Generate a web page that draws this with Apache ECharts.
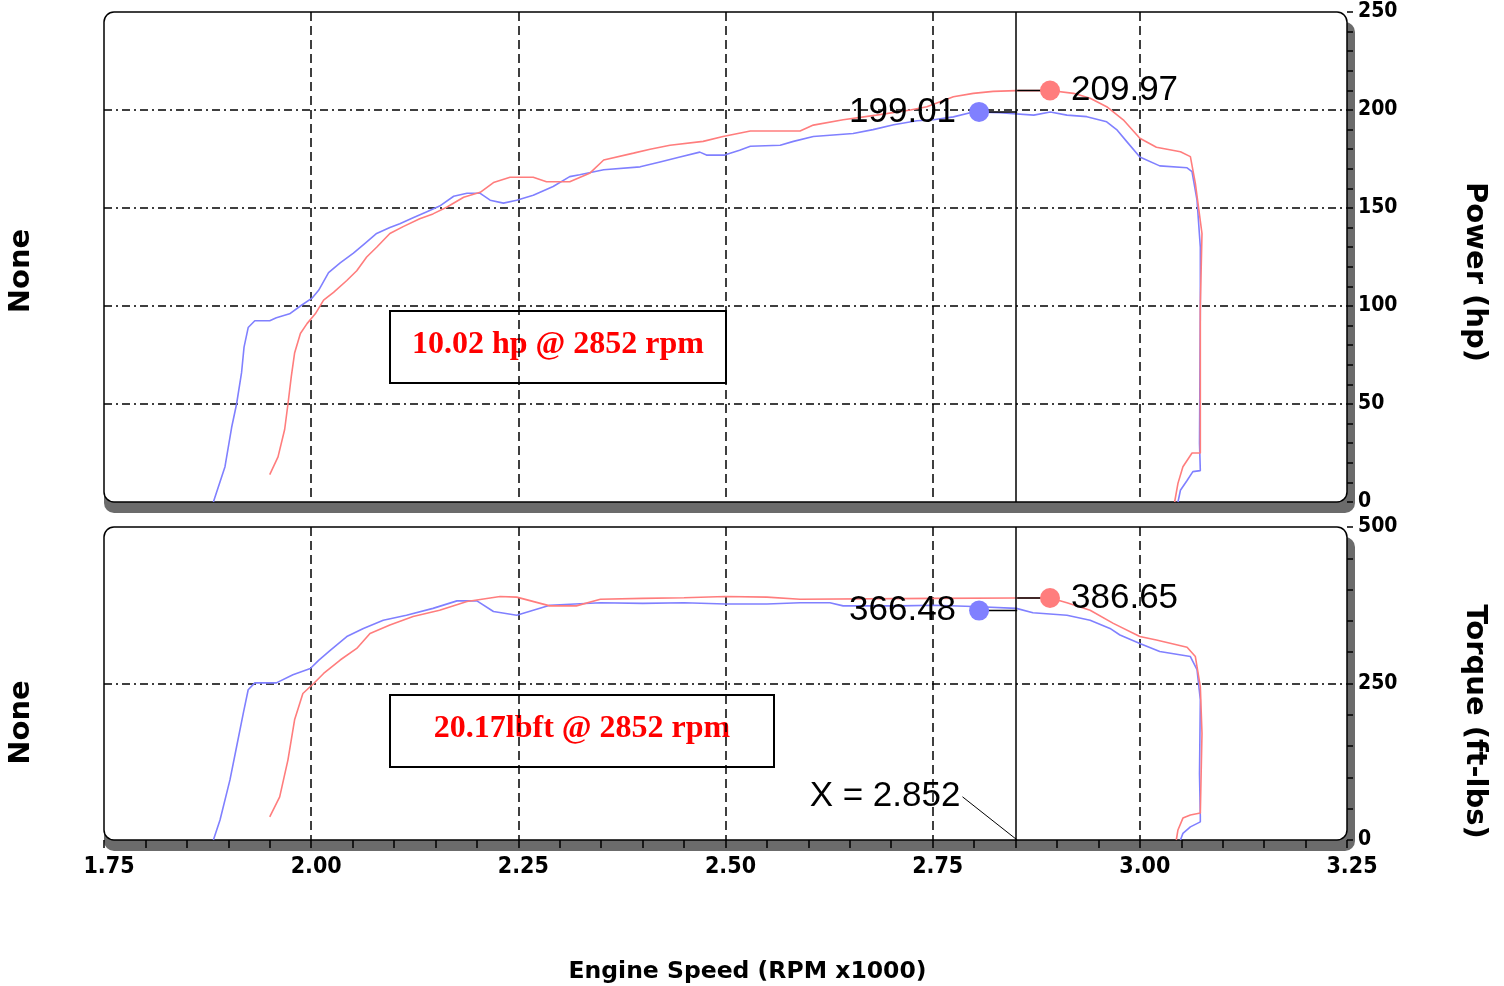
<!DOCTYPE html>
<html><head><meta charset="utf-8">
<script src="https://cdn.jsdelivr.net/npm/echarts@6/dist/echarts.min.js"></script>
<style>html,body{margin:0;padding:0;background:#fff;}#c{width:1504px;height:986px;}</style>
</head><body><div id="c"></div>
<script>
// ---- data (RPM x1000, value) ----
const powerBlue = [[1.882,0],[1.896,18],[1.904,38],[1.910,50],[1.916,66],[1.919,79],[1.924,89],[1.932,92.5],[1.950,92.5],[1.958,94],[1.974,96],[1.987,100],[2.001,104],[2.009,108],[2.021,117],[2.035,122],[2.051,127],[2.065,132],[2.079,137],[2.095,140],[2.107,142],[2.123,145],[2.139,148],[2.155,151],[2.172,156],[2.188,157.5],[2.204,157.5],[2.216,154],[2.232,152.5],[2.248,154],[2.268,156.5],[2.292,161],[2.312,166],[2.324,167],[2.353,169.5],[2.397,171],[2.421,173.5],[2.445,176],[2.469,178.5],[2.477,177],[2.499,177],[2.517,179.5],[2.530,181.5],[2.566,182],[2.582,184],[2.606,186.5],[2.654,188],[2.678,190],[2.703,192.5],[2.731,194.5],[2.751,195],[2.775,196.5],[2.799,199],[2.831,198.6],[2.872,197.4],[2.892,199],[2.912,197.4],[2.936,196.6],[2.960,194],[2.972,190],[2.984,184],[3.000,176],[3.024,171.5],[3.057,170.5],[3.063,168.5],[3.069,154],[3.073,130],[3.073,100],[3.072,30],[3.073,16],[3.064,15.5],[3.057,11],[3.049,6],[3.046,0]];
const powerRed = [[1.950,14],[1.960,23],[1.968,37],[1.972,50],[1.976,64],[1.980,76],[1.987,86],[1.995,91],[2.005,96],[2.015,103],[2.027,107],[2.043,113],[2.055,118],[2.067,125],[2.079,130],[2.095,137],[2.111,140.5],[2.131,144.5],[2.147,147],[2.164,150.5],[2.184,155.5],[2.204,158],[2.220,163],[2.240,165.7],[2.268,165.7],[2.284,163.4],[2.312,163.4],[2.336,167.7],[2.353,174.5],[2.389,178],[2.409,180],[2.433,182],[2.473,184],[2.497,186.5],[2.530,189.3],[2.590,189.3],[2.606,192.3],[2.642,195],[2.682,197.4],[2.723,200],[2.743,201.7],[2.775,206.8],[2.799,208.5],[2.823,209.5],[2.851,209.9],[2.892,209.97],[2.920,208.5],[2.940,206],[2.960,201.7],[2.980,195],[3.000,185.6],[3.020,181],[3.049,178.7],[3.061,176.2],[3.067,162.6],[3.075,137],[3.073,100],[3.073,25],[3.063,25],[3.052,18],[3.046,9.5],[3.042,0]];
const torqueBlue = [[1.882,0],[1.890,32],[1.902,96],[1.910,149],[1.918,202],[1.924,240],[1.932,251],[1.958,251],[1.978,264],[1.999,274],[2.009,287],[2.023,303],[2.043,325],[2.063,338],[2.087,351],[2.115,359],[2.147,370],[2.176,382],[2.200,382],[2.220,365],[2.248,359],[2.288,375],[2.349,379],[2.400,378],[2.450,379],[2.500,377],[2.550,377],[2.590,379],[2.626,379],[2.642,374],[2.711,374],[2.751,375],[2.799,373],[2.851,370],[2.871,363],[2.912,359],[2.940,351],[2.964,338],[2.976,327.5],[3.000,314],[3.024,301],[3.061,293],[3.069,272],[3.073,224],[3.072,106],[3.073,37],[3.073,29],[3.061,21],[3.052,10.6],[3.049,0]];
const torqueRed = [[1.950,37],[1.962,69],[1.972,128],[1.980,192],[1.990,234],[2.003,250],[2.015,266],[2.035,287.5],[2.055,306],[2.071,330],[2.095,343.5],[2.123,357],[2.155,367],[2.188,381],[2.228,389],[2.248,388],[2.288,374],[2.320,374],[2.349,384.5],[2.400,386],[2.450,387],[2.500,389],[2.550,388],[2.590,384.5],[2.751,386],[2.851,386.65],[2.892,386.65],[2.912,379],[2.940,367],[2.968,346],[3.000,325],[3.020,319.5],[3.057,308],[3.067,293],[3.073,245],[3.075,170],[3.073,43],[3.061,40],[3.052,35],[3.046,16],[3.044,0]];
const cursorX = 2.852;
const peakPowerBlue = [2.806, 199.01];
const peakPowerRed = [2.8916, 209.97];
const peakTorqueBlue = [2.806, 366.48];
const peakTorqueRed = [2.8916, 386.65];
const cursorLabelAnchor = [2.786, 69];
const xTickValues = [1.75, 2.00, 2.25, 2.50, 2.75, 3.00, 3.25];
const powerTicks = [0, 50, 100, 150, 200, 250];
const torqueTicks = [0, 250, 500];
const annotations = ['10.02 hp @ 2852 rpm', '20.17lbft @ 2852 rpm'];

// ---- layout ----
const L = 104, W = 1243;
const T1 = 12, H1 = 490, T2 = 527, H2 = 313;
const BLUE = '#8080ff', RED = '#ff7d7d';
const tickFont = {fontFamily: '"DejaVu Sans Condensed","DejaVu Sans",sans-serif', fontWeight: 'bold', fontSize: 23, color: '#000'};
const titleFont = {fontFamily: '"DejaVu Sans",sans-serif', fontWeight: 'bold', fontSize: 29, color: '#000'};
const valFont = {fontFamily: '"Liberation Sans",Arial,sans-serif', fontSize: 35, color: '#000', opacity: 1};
const hDash = {color: '#000', width: 1.5, type: [8, 4, 2, 4]};
const vDash = {color: '#000', width: 1.5, type: [9, 5]};

function panel(top, h) {
  return [
    {type: 'rect', z: -2, shape: {x: L, y: top + 10, width: W + 8, height: h + 1, r: 10}, style: {fill: '#6b6b6b'}},
    {type: 'rect', z: -1, shape: {x: L, y: top, width: W, height: h, r: 10}, style: {fill: '#fff', stroke: '#000', lineWidth: 1.5}}
  ];
}
function box(x, y, w, h, text) {
  return {type: 'group', x: x, y: y, z: 100, children: [
    {type: 'rect', shape: {x: 0, y: 0, width: w, height: h}, style: {fill: '#fff', stroke: '#000', lineWidth: 2}},
    {type: 'text', x: w / 2, y: h / 2 - 2, style: {text: text, fill: '#ff0000', font: 'bold 32px "Liberation Serif","Times New Roman",serif', align: 'center', verticalAlign: 'middle', textAlign: 'center', textVerticalAlign: 'middle'}}
  ]};
}
function xAxisBase(gi, withLabels) {
  return {
    type: 'value', gridIndex: gi, min: 1.75, max: 3.25, interval: 0.25,
    axisLine: {show: false},
    axisTick: {show: withLabels, length: 8, inside: false, lineStyle: {color: '#000', width: 1.5}},
    minorTick: {show: withLabels, splitNumber: 5, length: 8, lineStyle: {color: '#000', width: 1.5}},
    axisLabel: Object.assign({show: withLabels, margin: 16, showMinLabel: true, showMaxLabel: true, padding: [0, 0, 0, 10],
      formatter: v => { const t = xTickValues.find(a => Math.abs(a - v) < 1e-6); return t === undefined ? '' : t.toFixed(2); }}, tickFont),
    splitLine: {show: true, showMinLine: false, showMaxLine: false, lineStyle: vDash},
    name: withLabels ? 'Engine Speed (RPM x1000)' : '', nameLocation: 'middle', nameGap: 120,
    nameTextStyle: Object.assign({}, titleFont, {fontSize: 23.5, padding: [0, 0, 0, 44]})
  };
}
function yRight(gi, max, interval, ticks, name, minorSplit, shift) {
  return {
    type: 'value', gridIndex: gi, position: 'right', min: 0, max: max, interval: interval,
    axisLine: {show: false},
    axisTick: {show: true, inside: false, length: 6, lineStyle: {color: '#000', width: 1.5}},
    minorTick: {show: true, splitNumber: minorSplit, length: 6, lineStyle: {color: '#000', width: 1.5}},
    axisLabel: Object.assign({margin: 11, align: 'left', showMinLabel: true, showMaxLabel: true, padding: [10, 0, 0, 0],
      formatter: v => ticks.includes(v) ? String(v) : ''}, tickFont, {fontSize: 21}),
    splitLine: {show: true, showMinLine: false, showMaxLine: false, lineStyle: hDash},
    name: name, nameLocation: 'middle', nameRotate: -90, nameGap: 113,
    nameTextStyle: Object.assign({}, titleFont, {padding: [0, 0, 0, shift * 2]})
  };
}
function yLeft(gi, shift) {
  return {
    type: 'value', gridIndex: gi, position: 'left', min: 0, max: 1,
    axisLine: {show: false}, axisTick: {show: false}, axisLabel: {show: false}, splitLine: {show: false},
    name: 'None', nameLocation: 'middle', nameRotate: 90, nameGap: 68,
    nameTextStyle: Object.assign({}, titleFont, {padding: [0, shift * 2, 0, 0]})
  };
}
function curve(xi, yi, data, color, withCursor) {
  const s = {type: 'line', xAxisIndex: xi, yAxisIndex: yi, data: data, showSymbol: false, symbol: 'none',
    lineStyle: {color: color, width: 1.6}, itemStyle: {color: color}, z: 3, silent: true, animation: false};
  if (withCursor) {
    s.markLine = {symbol: 'none', silent: true, label: {show: false}, animation: false,
      lineStyle: {color: '#000', width: 1.5, type: 'solid'}, data: [{xAxis: cursorX}]};
  }
  return s;
}
function leader(xi, yi, a, b, w) {
  return {type: 'line', xAxisIndex: xi, yAxisIndex: yi, data: [a, b], symbol: 'none', showSymbol: false,
    lineStyle: {color: '#000', width: w || 1.5}, z: 4, silent: true, animation: false};
}
function marker(xi, yi, pt, color, pos) {
  return {type: 'scatter', xAxisIndex: xi, yAxisIndex: yi, data: [pt], symbol: 'circle', symbolSize: 20,
    itemStyle: {color: color, opacity: 1}, z: 5, silent: true, animation: false,
    label: Object.assign({show: true, position: pos, distance: pos === 'left' ? 13 : 11,
      formatter: p => p.value[1].toFixed(2)}, valFont)};
}

const chart = echarts.init(document.getElementById('c'), null, {renderer: 'canvas'});
chart.setOption({
  backgroundColor: '#fff',
  animation: false,
  grid: [
    {left: L, top: T1, width: W, height: H1, containLabel: false, outerBoundsMode: 'none'},
    {left: L, top: T2, width: W, height: H2, containLabel: false, outerBoundsMode: 'none'}
  ],
  xAxis: [xAxisBase(0, false), xAxisBase(1, true)],
  yAxis: [
    yRight(0, 250, 50, powerTicks, 'Power (hp)', 5, 15),
    yRight(1, 500, 250, torqueTicks, 'Torque (ft-lbs)', 5, 38),
    yLeft(0, 14), yLeft(1, 39)
  ],
  graphic: {elements: [].concat(
    panel(T1, H1), panel(T2, H2),
    [box(390, 311, 336, 72, annotations[0]), box(390, 695, 384, 72, annotations[1])]
  )},
  series: [
    curve(0, 0, powerBlue, BLUE, true),
    curve(0, 0, powerRed, RED, false),
    leader(0, 0, [peakPowerRed[0], peakPowerRed[1]], [cursorX, peakPowerRed[1]]),
    leader(0, 0, [peakPowerBlue[0], peakPowerBlue[1]], [cursorX, peakPowerBlue[1]]),
    marker(0, 0, peakPowerBlue, BLUE, 'left'),
    marker(0, 0, peakPowerRed, RED, 'right'),
    curve(1, 1, torqueBlue, BLUE, true),
    curve(1, 1, torqueRed, RED, false),
    leader(1, 1, [peakTorqueRed[0], peakTorqueRed[1]], [cursorX, peakTorqueRed[1]]),
    leader(1, 1, [peakTorqueBlue[0], peakTorqueBlue[1]], [cursorX, peakTorqueBlue[1]]),
    marker(1, 1, peakTorqueBlue, BLUE, 'left'),
    marker(1, 1, peakTorqueRed, RED, 'right'),
    leader(1, 1, cursorLabelAnchor, [cursorX, 0], 1),
    {type: 'scatter', xAxisIndex: 1, yAxisIndex: 1, data: [cursorLabelAnchor], symbol: 'circle', symbolSize: 0.1,
      itemStyle: {color: '#000', opacity: 1}, silent: true, z: 5,
      label: Object.assign({show: true, position: 'left', distance: 2, formatter: 'X = ' + cursorX}, valFont)}
  ]
});
</script></body></html>
